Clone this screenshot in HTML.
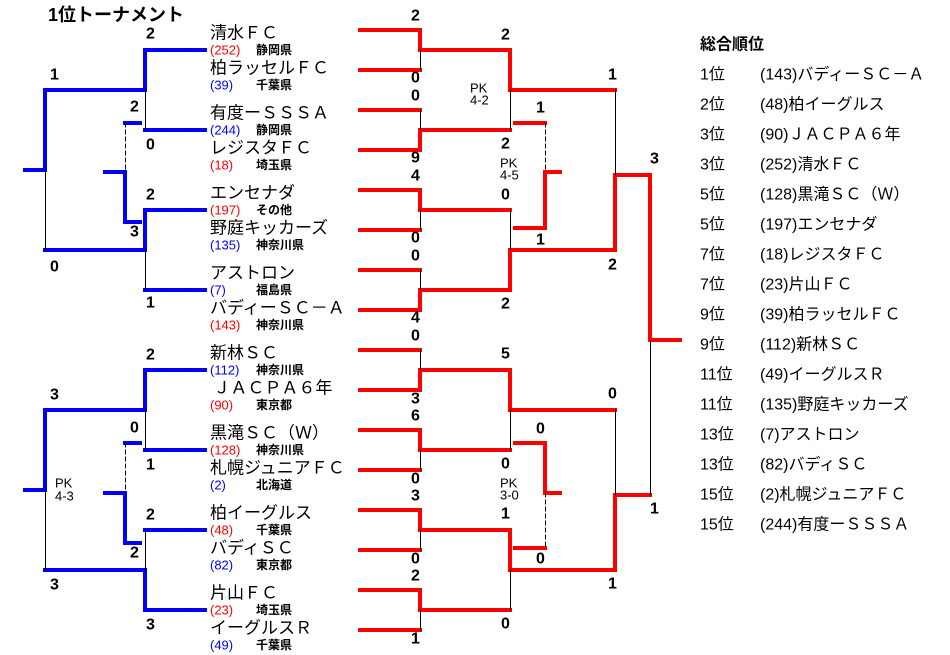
<!DOCTYPE html>
<html><head><meta charset="utf-8">
<style>
html,body{margin:0;padding:0;background:#fff;}
svg{display:block;}
text{font-family:"Liberation Sans","Noto Sans CJK JP",sans-serif;fill:#000;dominant-baseline:central;}
.s{font-size:16px;font-weight:bold;}
.n{font-size:17px;}
.m{font-size:13px;}
.p{font-size:12px;font-weight:bold;}
.pk{font-size:13px;}
.r{font-size:16px;}
</style></head><body>
<svg width="950" height="655" viewBox="0 0 950 655" xmlns="http://www.w3.org/2000/svg">
<g fill="none" stroke-linecap="square">
<g stroke="#0000ff" stroke-width="4">
<path d="M25 170H45V90H145V50H205"/>
<path d="M45 250H145V210H205"/>
<path d="M145 130H205"/>
<path d="M145 290H205"/>
<path d="M125 123H140"/>
<path d="M105 172H125V222H140"/>
<path d="M25 490H45V410H145V370H205"/>
<path d="M45 570H145V610H205"/>
<path d="M145 450H205"/>
<path d="M145 530H205"/>
<path d="M125 443H140"/>
<path d="M105 493H125V543H140"/>
</g>
<g stroke="#ff0000" stroke-width="4">
<path d="M360 30H420V50H510V90H615"/>
<path d="M360 70H420"/>
<path d="M360 110H420"/>
<path d="M360 150H420V130H510"/>
<path d="M360 190H420V210H510"/>
<path d="M360 230H420"/>
<path d="M360 270H420"/>
<path d="M360 310H420V290H510V250H615V175H650V340H680"/>
<path d="M515 123H545"/>
<path d="M515 228H545V172H560"/>
<path d="M360 350H420"/>
<path d="M360 390H420V370H510V410H615"/>
<path d="M360 430H420V450H510"/>
<path d="M360 470H420"/>
<path d="M360 510H420V530H510V570H615V495H650"/>
<path d="M360 550H420"/>
<path d="M360 590H420V610H510"/>
<path d="M360 630H420"/>
<path d="M515 443H545V493H560"/>
<path d="M515 548H545"/>
</g>
<g stroke="#000" stroke-width="1">
<path d="M45.5 170V250M145.5 90V130M145.5 250V290M45.5 490V570M145.5 410V450M145.5 530V570"/>
<path d="M420.5 50V70M420.5 110V130M420.5 210V230M420.5 270V290M510.5 90V130M510.5 210V250M615.5 90V175"/>
<path d="M420.5 350V370M420.5 450V470M420.5 530V550M420.5 610V630M510.5 410V450M510.5 570V610M615.5 410V495M650.5 340V495"/>
</g>
<g stroke="#000" stroke-width="1" stroke-dasharray="4,3">
<path d="M125.5 123V172M125.5 443V493M545.5 123V172M545.5 493V548"/>
</g>
</g>

<text x="48" y="15" style="font-size:18px;font-weight:bold">1位トーナメント</text>

<g class="s">
<text x="50" y="75">1</text><text x="50" y="267">0</text>
<text x="146" y="34">2</text><text x="146" y="145">0</text>
<text x="130" y="107">2</text><text x="130" y="232">3</text>
<text x="146" y="195">2</text><text x="146" y="303">1</text>
<text x="50" y="395">3</text><text x="50" y="585">3</text>
<text x="146" y="355">2</text><text x="146" y="465">1</text>
<text x="130" y="428">0</text><text x="130" y="553">2</text>
<text x="146" y="515">2</text><text x="146" y="625">3</text>
</g>
<text class="pk" x="55" y="483">PK</text><text class="pk" x="55" y="496">4-3</text>

<g>
<text class="n" x="210" y="33">清水ＦＣ</text><text class="m" x="210" y="50" style="fill:#f00">(252)</text><text class="p" x="256" y="50">静岡県</text>
<text class="n" x="210" y="68">柏ラッセルＦＣ</text><text class="m" x="210" y="85" style="fill:#00f">(39)</text><text class="p" x="256" y="85">千葉県</text>
<text class="n" x="210" y="113">有度ーＳＳＳＡ</text><text class="m" x="210" y="130" style="fill:#00f">(244)</text><text class="p" x="256" y="130">静岡県</text>
<text class="n" x="210" y="148">レジスタＦＣ</text><text class="m" x="210" y="165" style="fill:#f00">(18)</text><text class="p" x="256" y="165">埼玉県</text>
<text class="n" x="210" y="193">エンセナダ</text><text class="m" x="210" y="210" style="fill:#f00">(197)</text><text class="p" x="256" y="210">その他</text>
<text class="n" x="210" y="228">野庭キッカーズ</text><text class="m" x="210" y="245" style="fill:#00f">(135)</text><text class="p" x="256" y="245">神奈川県</text>
<text class="n" x="210" y="273">アストロン</text><text class="m" x="210" y="290" style="fill:#00f">(7)</text><text class="p" x="256" y="290">福島県</text>
<text class="n" x="210" y="308">バディーＳＣ－Ａ</text><text class="m" x="210" y="325" style="fill:#f00">(143)</text><text class="p" x="256" y="325">神奈川県</text>
<text class="n" x="210" y="353">新林ＳＣ</text><text class="m" x="210" y="370" style="fill:#00f">(112)</text><text class="p" x="256" y="370">神奈川県</text>
<text class="n" x="210" y="388">&#8201;ＪＡＣＰＡ６年</text><text class="m" x="210" y="405" style="fill:#f00">(90)</text><text class="p" x="256" y="405">東京都</text>
<text class="n" x="210" y="433">黒滝ＳＣ（Ｗ）</text><text class="m" x="210" y="450" style="fill:#f00">(128)</text><text class="p" x="256" y="450">神奈川県</text>
<text class="n" x="210" y="468">札幌ジュニアＦＣ</text><text class="m" x="210" y="485" style="fill:#00f">(2)</text><text class="p" x="256" y="485">北海道</text>
<text class="n" x="210" y="513">柏イーグルス</text><text class="m" x="210" y="530" style="fill:#f00">(48)</text><text class="p" x="256" y="530">千葉県</text>
<text class="n" x="210" y="548">バディＳＣ</text><text class="m" x="210" y="565" style="fill:#00f">(82)</text><text class="p" x="256" y="565">東京都</text>
<text class="n" x="210" y="593">片山ＦＣ</text><text class="m" x="210" y="610" style="fill:#f00">(23)</text><text class="p" x="256" y="610">埼玉県</text>
<text class="n" x="210" y="628">イーグルスＲ</text><text class="m" x="210" y="645" style="fill:#00f">(49)</text><text class="p" x="256" y="645">千葉県</text>
</g>

<g class="s">
<text x="411" y="16">2</text><text x="411" y="78">0</text><text x="411" y="96">0</text><text x="411" y="158">9</text>
<text x="411" y="176">4</text><text x="411" y="238">0</text><text x="411" y="256">0</text><text x="411" y="318">4</text>
<text x="501" y="35">2</text><text x="501" y="144">2</text><text x="501" y="195">0</text><text x="501" y="304">2</text>
<text x="536" y="108">1</text><text x="536" y="240">1</text>
<text x="608" y="75">1</text><text x="608" y="265">2</text><text x="650" y="159">3</text>
<text x="411" y="336">0</text><text x="411" y="399">3</text><text x="411" y="416">6</text><text x="411" y="479">0</text>
<text x="411" y="496">3</text><text x="411" y="559">0</text><text x="411" y="576">2</text><text x="411" y="639">1</text>
<text x="501" y="354">5</text><text x="501" y="464">0</text><text x="501" y="514">1</text><text x="501" y="624">0</text>
<text x="536" y="429">0</text><text x="536" y="559">0</text>
<text x="608" y="394">0</text><text x="608" y="584">1</text><text x="650" y="509">1</text>
</g>
<text class="pk" x="470" y="88">PK</text><text class="pk" x="470" y="100">4-2</text>
<text class="pk" x="500" y="163">PK</text><text class="pk" x="500" y="175">4-5</text>
<text class="pk" x="500" y="483">PK</text><text class="pk" x="500" y="495">3-0</text>

<text x="700" y="45" style="font-size:16px;font-weight:bold">総合順位</text>
<g class="r">
<text x="700" y="75">1位</text><text x="760" y="75">(143)バディーＳＣ－Ａ</text>
<text x="700" y="105">2位</text><text x="760" y="105">(48)柏イーグルス</text>
<text x="700" y="135">3位</text><text x="760" y="135">(90)ＪＡＣＰＡ６年</text>
<text x="700" y="165">3位</text><text x="760" y="165">(252)清水ＦＣ</text>
<text x="700" y="195">5位</text><text x="760" y="195">(128)黒滝ＳＣ（Ｗ）</text>
<text x="700" y="225">5位</text><text x="760" y="225">(197)エンセナダ</text>
<text x="700" y="255">7位</text><text x="760" y="255">(18)レジスタＦＣ</text>
<text x="700" y="285">7位</text><text x="760" y="285">(23)片山ＦＣ</text>
<text x="700" y="315">9位</text><text x="760" y="315">(39)柏ラッセルＦＣ</text>
<text x="700" y="345">9位</text><text x="760" y="345">(112)新林ＳＣ</text>
<text x="700" y="375">11位</text><text x="760" y="375">(49)イーグルスＲ</text>
<text x="700" y="405">11位</text><text x="760" y="405">(135)野庭キッカーズ</text>
<text x="700" y="435">13位</text><text x="760" y="435">(7)アストロン</text>
<text x="700" y="465">13位</text><text x="760" y="465">(82)バディＳＣ</text>
<text x="700" y="495">15位</text><text x="760" y="495">(2)札幌ジュニアＦＣ</text>
<text x="700" y="525">15位</text><text x="760" y="525">(244)有度ーＳＳＳＡ</text>
</g>
</svg>
</body></html>
